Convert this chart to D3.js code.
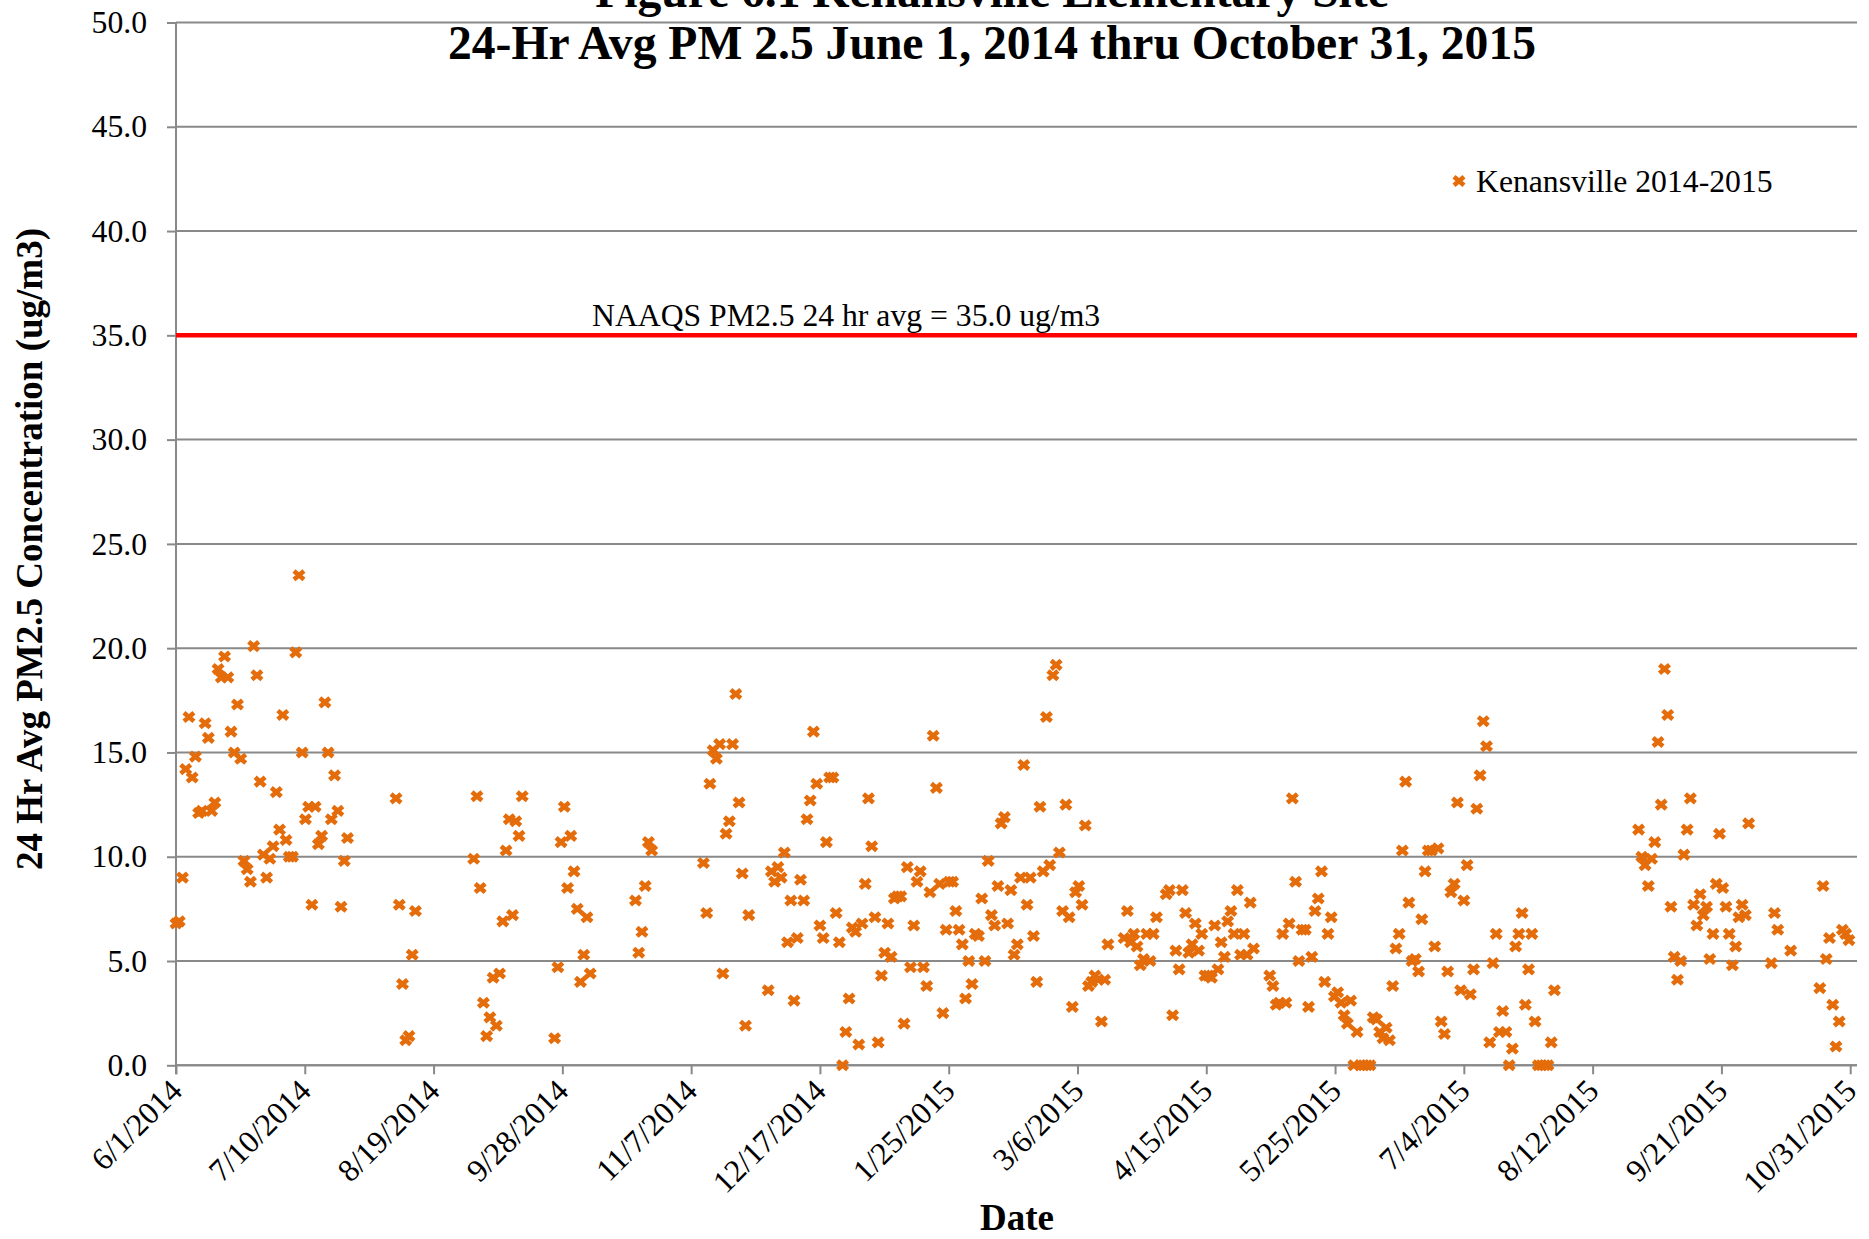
<!DOCTYPE html>
<html><head><meta charset="utf-8">
<script src="https://cdn.jsdelivr.net/npm/d3@7"></script>
<style>
html,body{margin:0;padding:0;background:#fff;}
svg{display:block;font-family:"Liberation Serif","Times New Roman",serif;}
</style></head><body>
<svg id="chart" width="1869" height="1239"></svg>
<script>
// ---------- data ----------
const titleLines = ["Figure 6.1 Kenansville Elementary Site", "24-Hr Avg PM 2.5 June 1, 2014 thru October 31, 2015"];
const seriesName = "Kenansville 2014-2015";
const yTitle = "24 Hr Avg PM2.5 Concentration (ug/m3)";
const xTitle = "Date";
const naaqsLabel = "NAAQS PM2.5 24 hr avg = 35.0 ug/m3";
const naaqsValue = 35.0;
const yTicks = [0, 5, 10, 15, 20, 25, 30, 35, 40, 45, 50];
const xTickLabels = ["6/1/2014","7/10/2014","8/19/2014","9/28/2014","11/7/2014","12/17/2014","1/25/2015","3/6/2015","4/15/2015","5/25/2015","7/4/2015","8/12/2015","9/21/2015","10/31/2015"];
const xAxisStart = "2014-06-01";
const xMajorUnitDays = 39.8;
const xAxisSpanDays = 519.5;

// daily measurements, grouped in runs of consecutive days
const runStarts = ["2014-06-01","2014-08-08","2014-09-01","2014-09-26","2014-10-21","2014-11-11","2014-12-01","2015-03-21","2015-04-03","2015-05-05","2015-08-27","2015-10-07","2015-10-13","2015-10-22"];
const runValues = [
  [6.8,6.9,9.0,14.2,16.7,13.8,14.8,12.1,12.2,16.4,15.7,12.2,12.6,19.0,18.6,19.6,18.6,16.0,15.0,17.3,14.7,9.8,9.4,8.8,20.1,18.7,13.6,10.1,9.0,9.9,10.5,13.1,11.3,16.8,10.8,10.0,10.0,19.8,23.5,15.0,11.8,12.4,7.7,12.4,10.6,11.0,17.4,15.0,11.8,13.9,12.2,7.6,9.8,10.9],
  [12.8,7.7,3.9,1.2,1.4,5.3,7.4],
  [9.9,12.9,8.5,3.0,1.4,2.3,4.2,1.9,4.4,6.9,10.3,11.8,7.2,11.7,11.0,12.9],
  [1.3,4.7,10.7,12.4,8.5,11.0,9.3,7.5,4.0,5.3,7.1,4.4],
  [7.9,5.4,6.4,8.6,10.7,10.3],
  [9.7,7.3,13.5,15.1,14.7,15.4,4.4,11.1,11.7,15.4,17.8,12.6,9.2,1.9,7.2],
  [3.6,9.3,8.8,9.5,9.0,10.2,5.9,7.9,3.1,6.1,
   8.9,7.9,11.8,12.7,16.0,13.5,6.7,6.1,10.7,13.8,
   13.8,7.3,5.9,0.0,1.6,3.2,6.6,6.4,1.0,6.8,
   8.7,12.8,10.5,7.1,1.1,4.3,5.4,6.8,5.2,8.0,
   8.1,8.1,2.0,9.5,4.7,6.7,8.8,9.3,4.7,3.8,
   8.3,15.8,13.3,8.7,2.5,6.5,8.8,8.8,7.4,6.5,
   5.8,3.2,5.0,3.9,6.3,6.2,8.0,5.0,9.8,7.2,
   6.7,8.6,11.6,11.9,6.8,8.4,5.3,5.8,9.0,14.4,
   7.7,9.0,6.2,4.0,12.4,9.3,16.7,9.6,18.7,19.2,
   10.2,7.4,12.5,7.1,2.8,8.3,8.6,7.7,11.5,3.8,
   4.0,4.3,4.1,2.1,4.1,5.8],
  [6.1,7.4,5.9,6.3,5.7,4.8,5.1,6.3,5.0,6.3,7.1],
  [8.2,8.4,2.4,5.5,4.6,8.4,7.3,5.4,5.8,6.8,5.5,6.3,4.3,4.3,4.2,6.7,4.6,5.9,5.2,6.9,7.4,6.3,8.4,5.3,6.3,5.3,7.8,5.6],
  [4.3,3.8,2.9,3.0,6.3,3.0,6.8,12.8,8.8,5.0,
   6.5,6.5,2.8,5.2,7.4,8.0,9.3,4.0,6.3,7.1,
   3.3,3.5,3.0,2.4,2.0,3.1,0.0,1.6,0.0,0.0,
   0.0,0.0,2.3,2.2,1.6,1.3,1.8,1.2,3.8,5.6,
   6.3,10.3,13.6,7.8,5.0,5.1,4.5,7.0,9.3,10.3,
   10.3,5.7,10.4,2.1,1.5,4.5,8.3,8.7,12.6,3.6,
   7.9,9.6,3.4,4.6,12.3,13.9,16.5,15.3,1.1,4.9,
   6.3,1.6,2.6,1.6,0.0,0.8,5.7,6.3,7.3,2.9,
   4.6,6.3,2.1,0.0,0.0,0.0,0.0,1.1,3.6],
  [11.3,10.0,9.6,8.6,9.9,10.7,15.5,12.5,19.0,16.8,
   7.6,5.2,4.1,5.0,10.1,11.3,12.8,7.7,6.7,8.2,
   7.2,7.6,5.1,6.3,8.7,11.1,8.5,7.6,6.3,4.8,
   5.7,7.1,7.7,7.2,11.6],
  [4.9,7.3,6.5],
  [5.5],
  [3.7,8.6,5.1,6.1,2.9,0.9,2.1,6.5,6.3,6.0]
];

// ---------- build points ----------
const DAY = 864e5;
const parse = d3.utcParse("%Y-%m-%d");
const points = [];
runStarts.forEach((s, r) => {
  const t = parse(s).getTime();
  runValues[r].forEach((v, i) => points.push({date: new Date(t + i * DAY), value: v}));
});

// ---------- layout ----------
const svg = d3.select("#chart");
const plot = {left: 176, right: 1857, top: 22.5, bottom: 1065.3};
const t0 = parse(xAxisStart).getTime();
const x = d3.scaleUtc().domain([new Date(t0), new Date(t0 + xAxisSpanDays * DAY)]).range([plot.left, plot.right]);
const y = d3.scaleLinear().domain([0, 50]).range([plot.bottom, plot.top]);
const gridColor = "#898989";
const orange = "#E46C0A";
const fontBody = 31.7;

// gridlines
svg.append("g").selectAll("line").data(yTicks).join("line")
  .attr("x1", plot.left).attr("x2", plot.right)
  .attr("y1", d => y(d)).attr("y2", d => y(d))
  .attr("stroke", gridColor).attr("stroke-width", 2);

// y axis
const yAxis = svg.append("g").attr("transform", `translate(${plot.left},0)`)
  .call(d3.axisLeft(y).tickValues(yTicks).tickSize(9).tickPadding(20).tickFormat(d3.format(".1f")));
yAxis.select(".domain").attr("stroke", gridColor).attr("stroke-width", 2)
  .attr("d", `M0,${plot.top}V${plot.bottom + 9}`);
yAxis.selectAll(".tick line").attr("stroke", gridColor).attr("stroke-width", 2);
yAxis.selectAll(".tick text").attr("font-size", fontBody).attr("font-family", "Liberation Serif, Times New Roman, serif").attr("fill", "#000");

// x axis
const xTickDates = xTickLabels.map((_, i) => new Date(t0 + i * xMajorUnitDays * DAY));
const xAxis = svg.append("g").attr("transform", `translate(0,${plot.bottom})`)
  .call(d3.axisBottom(x).tickValues(xTickDates).tickSize(9).tickFormat((d, i) => xTickLabels[i]));
xAxis.select(".domain").attr("stroke", gridColor).attr("stroke-width", 2)
  .attr("d", `M${plot.left},0H${plot.right}`);
xAxis.selectAll(".tick line").attr("stroke", gridColor).attr("stroke-width", 2);
xAxis.selectAll(".tick text")
  .attr("font-size", fontBody).attr("font-family", "Liberation Serif, Times New Roman, serif").attr("fill", "#000")
  .attr("text-anchor", "end").attr("dy", "0.33em").attr("y", 0)
  .attr("transform", "translate(0,20) rotate(-45)");

// NAAQS line
svg.append("line")
  .attr("x1", plot.left).attr("x2", plot.right)
  .attr("y1", y(naaqsValue)).attr("y2", y(naaqsValue))
  .attr("stroke", "#FF0000").attr("stroke-width", 4.5);
svg.append("text").attr("x", 592).attr("y", 326)
  .attr("font-size", fontBody).text(naaqsLabel);

// markers
const markerPath = "M-5,-4.3L5,4.3M-5,4.3L5,-4.3";
svg.append("g").selectAll("path").data(points).join("path")
  .attr("transform", d => `translate(${x(d.date)},${y(d.value)})`)
  .attr("d", markerPath)
  .attr("fill", "none").attr("stroke", orange).attr("stroke-width", 4.6);

// legend
svg.append("path").attr("transform", "translate(1459,181)").attr("d", markerPath)
  .attr("fill", "none").attr("stroke", orange).attr("stroke-width", 4.6);
svg.append("text").attr("x", 1476).attr("y", 192).attr("font-size", fontBody).text(seriesName);

// titles
const title = svg.append("text").attr("text-anchor", "middle").attr("font-weight", "bold").attr("font-size", 47.6);
title.append("tspan").attr("x", 992).attr("y", 7).text(titleLines[0]);
title.append("tspan").attr("x", 992).attr("y", 59).text(titleLines[1]);

svg.append("text").attr("text-anchor", "middle").attr("font-weight", "bold").attr("font-size", 37)
  .attr("transform", "translate(42,549) rotate(-90)").text(yTitle);
svg.append("text").attr("text-anchor", "middle").attr("font-weight", "bold").attr("font-size", 37)
  .attr("x", 1017).attr("y", 1230).text(xTitle);
</script>
</body></html>
